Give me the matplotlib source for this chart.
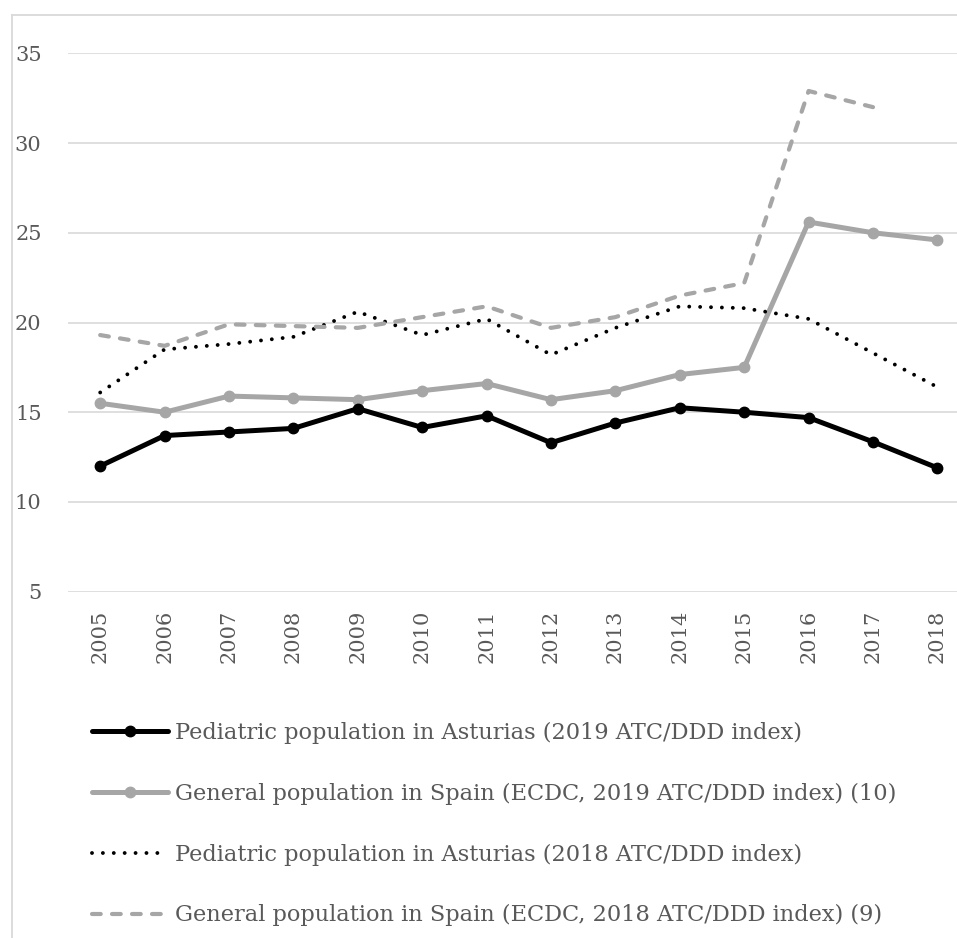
import matplotlib
matplotlib.use("Agg")
import matplotlib.pyplot as plt
from matplotlib.lines import Line2D

# data
years = ["2005", "2006", "2007", "2008", "2009", "2010", "2011",
         "2012", "2013", "2014", "2015", "2016", "2017", "2018"]
ped_2019 = [12.0, 13.7, 13.9, 14.1, 15.2, 14.15, 14.8, 13.3, 14.4, 15.25, 15.0, 14.7, 13.35, 11.9]
gen_2019 = [15.5, 15.0, 15.9, 15.8, 15.7, 16.2, 16.6, 15.7, 16.2, 17.1, 17.5, 25.6, 25.0, 24.6]
ped_2018 = [16.1, 18.5, 18.8, 19.2, 20.6, 19.3, 20.2, 18.2, 19.7, 20.9, 20.8, 20.2, 18.3, 16.4]
gen_2018 = [19.3, 18.7, 19.9, 19.8, 19.7, 20.3, 20.9, 19.7, 20.3, 21.5, 22.2, 32.9, 32.0, None]
labels = ["Pediatric population in Asturias (2019 ATC/DDD index)",
          "General population in Spain (ECDC, 2019 ATC/DDD index) (10)",
          "Pediatric population in Asturias (2018 ATC/DDD index)",
          "General population in Spain (ECDC, 2018 ATC/DDD index) (9)"]
yticks = [5, 10, 15, 20, 25, 30, 35]

TXT = "#595959"
GRID = "#d9d9d9"
GRAY = "#a6a6a6"
plt.rcParams['font.family'] = ['DejaVu Serif']

W, H = 957, 938
fig = plt.figure(figsize=(W / 100, H / 100), dpi=100)
ax = fig.add_axes([68 / W, (H - 591.7) / H, 901.6 / W, 538.4 / H])

x = list(range(len(years)))
gen18 = [float('nan') if v is None else v for v in gen_2018]

ax.plot(x, ped_2019, color="black", lw=3.6, marker="o", ms=7.5,
        solid_capstyle="round", label=labels[0], zorder=4)
ax.plot(x, gen_2019, color=GRAY, lw=3.6, marker="o", ms=7.5,
        solid_capstyle="round", label=labels[1], zorder=3)
ax.plot(x, ped_2018, color="black", lw=2.8, linestyle=(0, (0.001, 2.8)),
        dash_capstyle="round", label=labels[2], zorder=5)
ax.plot(x, gen18, color=GRAY, lw=3.0, linestyle=(0, (2.1, 2.7)),
        dash_capstyle="round", label=labels[3], zorder=6)

ax.set_xlim(-0.5, len(years) - 0.5)
ax.set_ylim(5, 35)
ax.set_yticks(yticks)
ax.set_xticks(x)
ax.set_xticklabels(years, rotation=90)
ax.tick_params(axis="both", length=0, labelsize=15, labelcolor=TXT)
ax.tick_params(axis="y", pad=19)
ax.tick_params(axis="x", pad=13)
ax.grid(axis="y", color=GRID, lw=1.2)
ax.set_axisbelow(True)
for s in ax.spines.values():
    s.set_visible(False)

leg = fig.legend(loc="upper left", bbox_to_anchor=(91.7 / W, (H - 722) / H),
                 frameon=False, fontsize=16.2, labelcolor=TXT, borderpad=0,
                 handlelength=3.38, handletextpad=0.31, labelspacing=1.72,
                 borderaxespad=0)

# outer chart frame
fy = (H - 15) / H
fx = 12 / W
fig.add_artist(Line2D([fx, fx], [0, fy], color=GRID, lw=1.3, transform=fig.transFigure))
fig.add_artist(Line2D([fx, 1], [fy, fy], color=GRID, lw=1.3, transform=fig.transFigure))

fig.savefig("out.png", dpi=100)
